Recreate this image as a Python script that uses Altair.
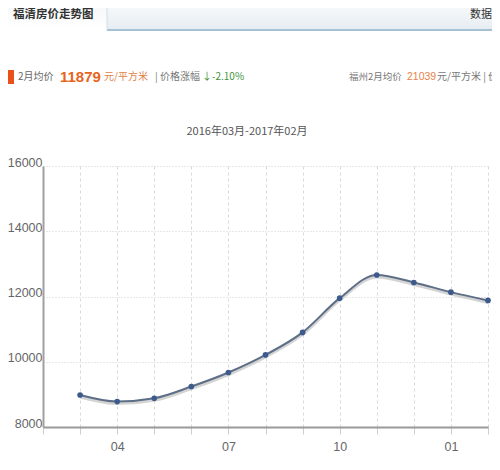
import altair as alt
import pandas as pd

# ---- data ----
months = ["2016-03", "2016-04", "2016-05", "2016-06", "2016-07", "2016-08",
          "2016-09", "2016-10", "2016-11", "2016-12", "2017-01", "2017-02"]
prices = [8980, 8780, 8880, 9240, 9670, 10210, 10900, 11950, 12660, 12430, 12134, 11879]
y_ticks = [8000, 10000, 12000, 14000, 16000]
x_tick_labels = {"2016-04": "04", "2016-07": "07", "2016-10": "10", "2017-01": "01"}

df = pd.DataFrame({"month": months, "price": prices})
df["idx"] = range(1, len(months) + 1)

label_map = {i + 1: x_tick_labels[m] for i, m in enumerate(months) if m in x_tick_labels}
label_expr = " : ".join(f"datum.value == {k} ? '{v}'" for k, v in label_map.items()) + " : ''"

CJK = "Noto Sans CJK SC"
NUM = "Liberation Sans"

W, H = 445, 261

x_enc = alt.X("idx:Q",
              scale=alt.Scale(domain=[0, 12], nice=False, zero=False),
              axis=alt.Axis(values=list(range(0, 13)), labelExpr=label_expr, title=None,
                            grid=True, gridColor="#d9d9d9", gridDash=[3, 3], gridWidth=1,
                            domainColor="#9a9a9a", domainWidth=2,
                            tickColor="#cfcfcf", tickSize=7, tickWidth=1,
                            labelFont=NUM, labelFontSize=12.5, labelColor="#666666",
                            labelPadding=6))
y_enc = alt.Y("price:Q",
              scale=alt.Scale(domain=[8000, 16000], nice=False, zero=False),
              axis=alt.Axis(values=y_ticks, title=None, format="d",
                            grid=True, gridColor="#d0d0d0", gridDash=[1, 2], gridWidth=1,
                            domainColor="#a0a0a0", domainWidth=2, ticks=False,
                            labelFont=NUM, labelFontSize=12.5, labelColor="#666666",
                            labelBaseline="alphabetic", labelPadding=1))

base = alt.Chart(df)
shadow = base.mark_line(interpolate="monotone", color="#c9c9c9", strokeWidth=3,
                        yOffset=2, opacity=0.8).encode(x=x_enc, y=y_enc)
line = base.mark_line(interpolate="monotone", color="#5d6e87", strokeWidth=2).encode(x=x_enc, y=y_enc)
pts = base.mark_circle(color="#3d5a8c", size=32, opacity=1).encode(x=x_enc, y=y_enc)

one = alt.Data(values=[{"a": 1}])


def txt(s, x, y, size=10, color="#666666", weight="normal", align="left", font=CJK):
    return alt.Chart(one).mark_text(text=s, fontSize=size, color=color, fontWeight=weight,
                                    align=align, baseline="middle", font=font).encode(
        x=alt.value(x), y=alt.value(y))


def box(x, x2, y, y2, color):
    return alt.Chart(one).mark_rect(color=color).encode(
        x=alt.value(x), x2=alt.value(x2), y=alt.value(y), y2=alt.value(y2))


def rule(x, x2, y, y2, color, w=1):
    return alt.Chart(one).mark_rule(color=color, strokeWidth=w).encode(
        x=alt.value(x), x2=alt.value(x2), y=alt.value(y), y2=alt.value(y2))


tab_bg = alt.Chart(one).mark_rect(
    color=alt.LinearGradient(gradient="linear", x1=0, x2=0, y1=0, y2=1,
                             stops=[alt.GradientStop(color="#fbfcfd", offset=0),
                                    alt.GradientStop(color="#e6edf2", offset=1)])
).encode(x=alt.value(64), x2=alt.value(460), y=alt.value(-166), y2=alt.value(-137))

tab_left = alt.Chart(one).mark_rect(
    color=alt.LinearGradient(gradient="linear", x1=0, x2=0, y1=0, y2=1,
                             stops=[alt.GradientStop(color="#f4f6f7", offset=0),
                                    alt.GradientStop(color="#ffffff", offset=1)])
).encode(x=alt.value(-43), x2=alt.value(64), y=alt.value(-166), y2=alt.value(-136))

layers = [
    tab_left, tab_bg,
    rule(64, 460, -136, -136, "#a6c1d3", 2),
    rule(64, 64, -166, -136, "#d3dde4", 1),
    txt("福清房价走势图", -30, -151, size=11.5, color="#333333", weight="bold"),
    txt("数据来源", 427, -151, size=11, color="#333333"),
    box(-35, -29, -96, -82, "#e8511a"),
    txt("2月均价", -25, -89, size=10, color="#666666"),
    txt("11879", 17, -89, size=15, color="#e8641c", weight="bold", font=NUM),
    txt("元/平方米", 61, -89, size=10, color="#e0834a"),
    txt("| 价格涨幅", 112, -89, size=10, color="#777777"),
    txt("↓-2.10%", 159, -89, size=10, color="#3f9440"),
    txt("福州2月均价", 306, -89, size=9.5, color="#777777"),
    txt("21039", 364, -89, size=10.5, color="#e8834a", font=NUM),
    txt("元/平方米 | 价格", 394, -89, size=10, color="#777777"),
    txt("2016年03月-2017年02月", 204, -34, size=11, color="#555555", align="center"),
    shadow, line, pts,
]

chart = alt.layer(*layers).properties(
    width=W, height=H,
    autosize=alt.AutoSizeParams(type="none"),
    padding={"left": 35, "top": 158, "right": 4, "bottom": 35},
).configure_view(strokeWidth=0)

chart.save("out.html", embed_options={"renderer": "svg", "actions": False})
